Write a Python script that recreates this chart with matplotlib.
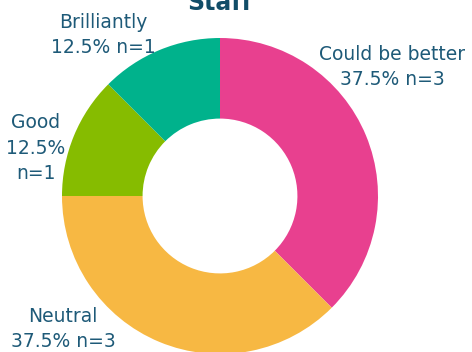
import matplotlib.pyplot as plt

categories = ["Could be better", "Neutral", "Good", "Brilliantly"]
counts = [3, 3, 1, 1]
colors = ["#E8408F", "#F7B843", "#86BC00", "#00B28C"]

# label anchor points (figure pixels, y from top) and line layout
label_pos = [(392, 67), (63, 329), (36, 148), (103, 35)]
label_wrap = [False, False, True, False]

text_color = "#1E5A78"
plt.rcParams["font.family"] = ["DejaVu Sans"]

fig = plt.figure(figsize=(4.72, 3.52), dpi=100)
ax = fig.add_axes([0, 0, 1, 1])

cx, cy, R = 220, 352 - 196, 158

ax.pie(
    counts,
    colors=colors,
    startangle=90,
    counterclock=False,
    center=(cx, cy),
    radius=R,
    wedgeprops=dict(width=R * 0.51, linewidth=0),
    frame=True,
)
ax.set_xlim(0, 472)
ax.set_ylim(0, 352)
ax.set_aspect("equal")
ax.axis("off")

total = sum(counts)
for name, n, (x, y), wrap in zip(categories, counts, label_pos, label_wrap):
    pct = f"{n / total * 100:.1f}%"
    sep = "\n" if wrap else " "
    ax.text(
        x, 352 - y,
        f"{name}\n{pct}{sep}n={n}",
        ha="center", va="center",
        fontsize=13.5, color=text_color,
        linespacing=1.45,
    )

ax.text(
    220, 352 - 10, "Staff",
    ha="center", va="baseline",
    fontsize=17, fontweight="bold", color="#114D68",
)

fig.savefig("out.png", dpi=100)
